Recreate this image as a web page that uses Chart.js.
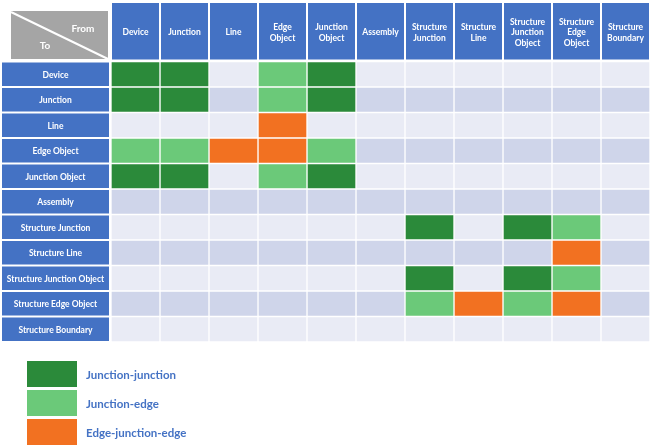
<!DOCTYPE html>
<html>
<head>
<meta charset="utf-8">
<script src="https://cdn.jsdelivr.net/npm/chart.js@4"></script>
<style>
  html, body { margin: 0; padding: 0; background: #fff; }
  #wrap { width: 651px; height: 446px; }
</style>
</head>
<body>
<div id="wrap"><canvas id="matrixChart" width="651" height="446"></canvas></div>
<script>
// "From" columns and "To" rows use the same names
const COLUMNS = ["Device", "Junction", "Line", "Edge Object", "Junction Object", "Assembly",
  "Structure Junction", "Structure Line", "Structure Junction Object", "Structure Edge Object", "Structure Boundary"]
const HEADER_LINES = [["Device"], ["Junction"], ["Line"], ["Edge", "Object"], ["Junction", "Object"], ["Assembly"],
  ["Structure", "Junction"], ["Structure", "Line"], ["Structure", "Junction", "Object"], ["Structure", "Edge", "Object"], ["Structure", "Boundary"]]
const ROWS = COLUMNS.slice()

// 0 = none, 1 = junction-junction, 2 = junction-edge, 3 = edge-junction-edge
const CONNECTIVITY = [
  [1, 1, 0, 2, 1, 0, 0, 0, 0, 0, 0],
  [1, 1, 0, 2, 1, 0, 0, 0, 0, 0, 0],
  [0, 0, 0, 3, 0, 0, 0, 0, 0, 0, 0],
  [2, 2, 3, 3, 2, 0, 0, 0, 0, 0, 0],
  [1, 1, 0, 2, 1, 0, 0, 0, 0, 0, 0],
  [0, 0, 0, 0, 0, 0, 0, 0, 0, 0, 0],
  [0, 0, 0, 0, 0, 0, 1, 0, 1, 2, 0],
  [0, 0, 0, 0, 0, 0, 0, 0, 0, 3, 0],
  [0, 0, 0, 0, 0, 0, 1, 0, 1, 2, 0],
  [0, 0, 0, 0, 0, 0, 2, 3, 2, 3, 0],
  [0, 0, 0, 0, 0, 0, 0, 0, 0, 0, 0]
]
const LINK_TYPES = ["Junction-junction", "Junction-edge", "Edge-junction-edge"]

const BLUE = "#4472C4"
const TYPE_COLORS = ["#2B8A3A", "#6BC979", "#F27121"]
const ROW_BG = ["#E9EBF5", "#CFD5EA"]

const cellColor = (r, c) => {
  const v = CONNECTIVITY[r][c]
  return v ? TYPE_COLORS[v - 1] : ROW_BG[r % 2]
}

// one floating bar dataset per "From" column
const datasets = COLUMNS.map((col, c) => ({
  label: col,
  data: ROWS.map(() => [c, c + 1]),
  backgroundColor: ROWS.map((row, r) => cellColor(r, c)),
  borderColor: "#ffffff",
  borderWidth: 1,
  borderSkipped: false,
  grouped: false,
  barPercentage: 1,
  categoryPercentage: 1
}))

const tablePlugin = {
  id: "tableDecor",
  afterDatasetsDraw(chart) {
    const {ctx, chartArea, scales: {x, y}} = chart
    const rowH = (chartArea.bottom - chartArea.top) / ROWS.length
    ctx.save()
    ctx.textAlign = "center"
    ctx.textBaseline = "middle"

    // header row
    const headTop = 3, headBottom = chartArea.top - 2
    HEADER_LINES.forEach((lines, c) => {
      const x0 = x.getPixelForValue(c) + 1, x1 = x.getPixelForValue(c + 1) - 1
      ctx.fillStyle = BLUE
      ctx.fillRect(x0, headTop, x1 - x0, headBottom - headTop)
      ctx.fillStyle = "#fff"
      ctx.font = "bold 8.5px Lato"
      const lh = 10.5
      const mid = (headTop + headBottom) / 2 + 1.5
      lines.forEach((t, i) => {
        ctx.fillText(t, (x0 + x1) / 2, mid + (i - (lines.length - 1) / 2) * lh)
      })
    })

    // row labels
    ROWS.forEach((row, r) => {
      const cy = y.getPixelForValue(r)
      ctx.fillStyle = BLUE
      ctx.fillRect(2, cy - rowH / 2 + 1, 107, rowH - 2)
      ctx.fillStyle = "#fff"
      ctx.font = "bold 8.5px Lato"
      ctx.fillText(row, 55.5, cy + 1)
    })

    // corner "From / To"
    ctx.fillStyle = "#A5A5A5"
    ctx.fillRect(11, 11, 97, 48)
    ctx.strokeStyle = "#fff"
    ctx.lineWidth = 2
    ctx.beginPath()
    ctx.moveTo(11, 12)
    ctx.lineTo(108, 59)
    ctx.stroke()
    ctx.fillStyle = "#fff"
    ctx.font = "bold 10px Lato"
    ctx.fillText("From", 83, 29)
    ctx.fillText("To", 45, 46)

    // legend
    LINK_TYPES.forEach((name, i) => {
      const top = 361 + i * 29
      ctx.fillStyle = TYPE_COLORS[i]
      ctx.fillRect(27, top, 50, 26)
      ctx.fillStyle = BLUE
      ctx.textAlign = "left"
      ctx.font = "bold 11.5px Lato"
      ctx.fillText(name, 86, top + 14)
    })
    ctx.restore()
  }
}

new Chart(document.getElementById("matrixChart"), {
  type: "bar",
  data: {labels: ROWS, datasets: datasets},
  options: {
    indexAxis: "y",
    responsive: false,
    animation: false,
    events: [],
    layout: {padding: {left: 111, right: 1, top: 61.5, bottom: 104}},
    scales: {
      x: {type: "linear", min: 0, max: COLUMNS.length, display: false},
      y: {type: "category", display: false}
    },
    plugins: {legend: {display: false}, tooltip: {enabled: false}}
  },
  plugins: [tablePlugin]
})
</script>
</body>
</html>
